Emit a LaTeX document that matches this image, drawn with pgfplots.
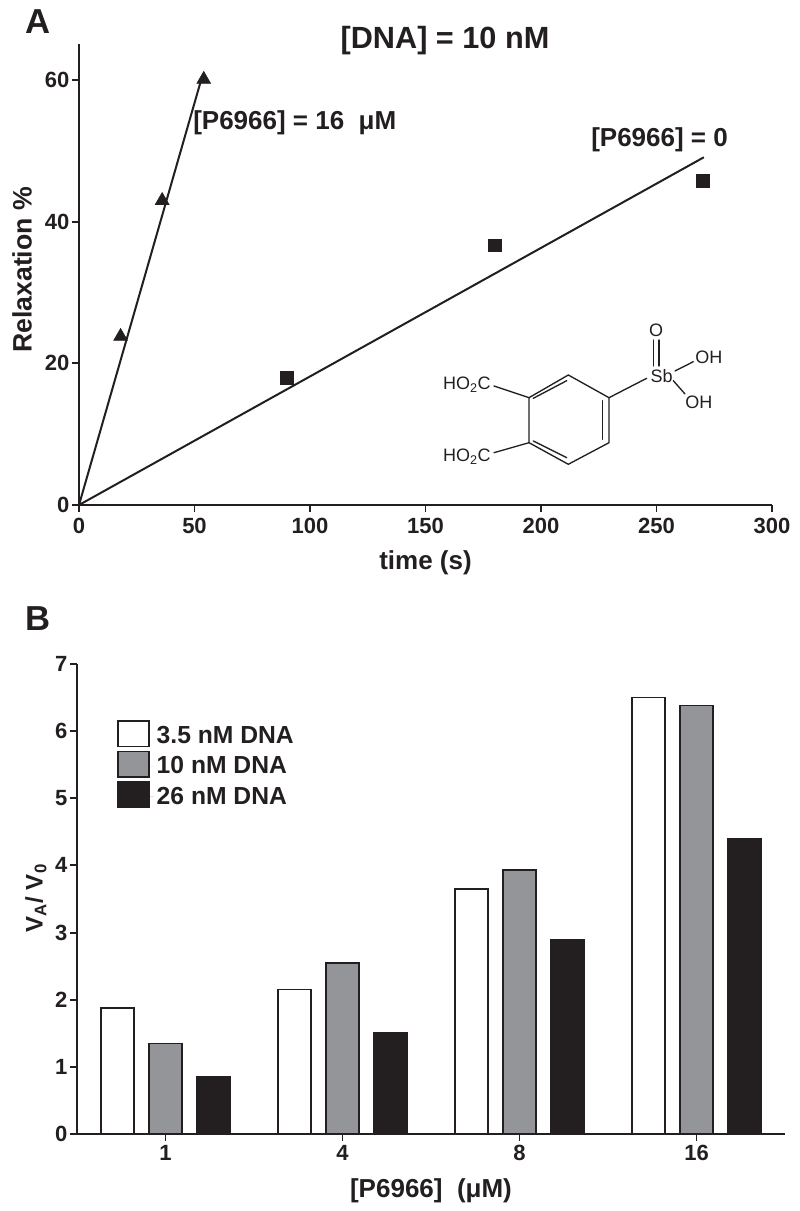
\documentclass[border=0pt]{standalone}
\usepackage{fontspec}
\setmainfont{Liberation Sans}
\usepackage{pgfplots}
\pgfplotsset{compat=1.18}
\definecolor{ink}{RGB}{35,31,32}
\definecolor{midgray}{RGB}{147,149,152}
\newcommand{\tickfont}{\bfseries\fontsize{16.5}{18}\selectfont}
\newcommand{\labfont}{\bfseries\fontsize{19.5}{22}\selectfont}
\newcommand{\legfont}{\bfseries\fontsize{18.5}{20}\selectfont}
\pgfplotsset{
    common/.style={
        scale only axis,
        axis lines=left,
        axis line style={-,ink,line width=1.4pt},
        tick style={ink,line width=1.4pt},
        tick align=outside,
        major tick length=5pt,
        /pgf/number format/assume math mode=true,
        tick label style={font=\tickfont,text=ink,inner sep=2pt},
        label style={font=\labfont,text=ink,anchor=center},
    }
}
\begin{document}
\begin{tikzpicture}
    \useasboundingbox (0,0) rectangle (600pt,908.25pt);
    % panel A
    \begin{axis}[
        common,
        at={(59.25pt,529.5pt)},
        anchor=south west,
        width=519.75pt,
        height=345.75pt,
        xmin=0, xmax=300,
        ymin=0, ymax=65.1,
        xtick={0,50,100,150,200,250,300},
        ytick={0,20,40,60},
        x tick label style={yshift=-2.5pt},
        xlabel={time (s)},
        ylabel={\fontsize{20}{22}\selectfont Relaxation \%},
        x label style={at={(axis description cs:0.5,-0.126)}},
        y label style={at={(axis description cs:-0.082,0.51)}},
        clip=false,
    ]
        \addplot[ink,line width=1.5pt] coordinates {(0,0) (52.5,59.6)};
        \addplot[ink,line width=1.5pt] coordinates {(0,0) (270.5,49.1)};
        \addplot[only marks,mark=triangle*,mark size=6pt,ink,mark options={fill=ink}]
            coordinates {(18,23.8) (36,43) (54,60.1)};
        \addplot[only marks,mark=square*,mark size=4.7pt,ink,mark options={fill=ink}]
            coordinates {(90,18) (180,36.7) (270,45.8)};
    \end{axis}
    % panel B
    \begin{axis}[
        common,
        at={(57.75pt,57.75pt)},
        anchor=south west,
        width=531pt,
        height=352.5pt,
        xmin=-0.5, xmax=3.5,
        ymin=0, ymax=7,
        xtick={0,1,2,3},
        xticklabels={1,4,8,16},
        ytick={0,1,2,3,4,5,6,7},
        x tick label style={yshift=-1.5pt},
        xlabel={[P6966]\ \ (μM)},
        ylabel={\fontsize{18}{20}\selectfont V\textsubscript{A}/ V\textsubscript{0}},
        x label style={at={(axis description cs:0.5,-0.12)}},
        y label style={at={(axis description cs:-0.058,0.502)}},
        ybar,
        bar width=0.186,
        legend cell align=left,
        legend style={
            at={(axis description cs:0.0565,0.881)},
            anchor=north west,
            draw=none,fill=none,
            font=\legfont,
            text=ink,
            row sep=2pt,
            inner sep=0pt,
        },
        legend image code/.code={
            \path[draw=none] (0pt,0pt) -- (27pt,0pt);
            \draw[#1] (0pt,-8pt) rectangle (23pt,11pt);
        },
    ]
        \addplot[bar shift=-0.27,draw=ink,line width=1.2pt,fill=white]
            coordinates {(0,1.88) (1,2.15) (2,3.65) (3,6.5)};
        \addplot[bar shift=0,draw=ink,line width=1.2pt,fill=midgray]
            coordinates {(0,1.35) (1,2.55) (2,3.93) (3,6.38)};
        \addplot[bar shift=0.27,draw=ink,line width=1.2pt,fill=ink]
            coordinates {(0,0.85) (1,1.5) (2,2.89) (3,4.4)};
        \legend{3.5 nM DNA,10 nM DNA,26 nM DNA}
    \end{axis}
    % annotations and structure, in reference pixels
    \begin{scope}[shift={(0pt,908.25pt)},x=0.75pt,y=-0.75pt]
        \node[text=ink,font=\bfseries\fontsize{26}{28}\selectfont] at (38,22) {A};
        \node[text=ink,font=\bfseries\fontsize{26}{28}\selectfont] at (38,619) {B};
        \node[text=ink,font=\bfseries\fontsize{23}{25}\selectfont] at (445,41) {[DNA] = 10 nM};
        \node[text=ink,font=\labfont,anchor=west,inner sep=0pt] at (193,123) {[P6966] = 16\ \ μM};
        \node[text=ink,font=\labfont,anchor=west,inner sep=0pt] at (591,140) {[P6966] = 0};
        \begin{scope}[ink,line width=1pt,line cap=round]
            \draw (568.3,375) -- (609,397.7) -- (609,442.7) -- (568.3,464.3)
                -- (529,442.7) -- (529,397.7) -- cycle;
            \draw (533.3,398.3) -- (566.7,380.7);
            \draw (602.7,400.7) -- (602.7,439.3);
            \draw (533.3,441) -- (566.7,457.7);
            \draw (609,397.7) -- (646.7,378.3);
            \draw (653.3,340) -- (653.3,366);
            \draw (659,340) -- (659,366);
            \draw (675,371) -- (693.3,361.7);
            \draw (673.3,380.7) -- (685,394);
            \draw (494,386) -- (529,397.7);
            \draw (494,452.7) -- (529,442.7);
        \end{scope}
        \begin{scope}[every node/.style={text=ink,inner sep=0pt,font=\fontsize{13.5}{15}\selectfont}]
            \node at (656,330.7) {O};
            \node at (661.7,375.7) {Sb};
            \node[anchor=west] at (695,357.7) {OH};
            \node[anchor=west] at (685,402.3) {OH};
            \node[anchor=east] at (491,385) {HO\textsubscript{2}C};
            \node[anchor=east] at (491,456.7) {HO\textsubscript{2}C};
        \end{scope}
    \end{scope}
\end{tikzpicture}
\end{document}
